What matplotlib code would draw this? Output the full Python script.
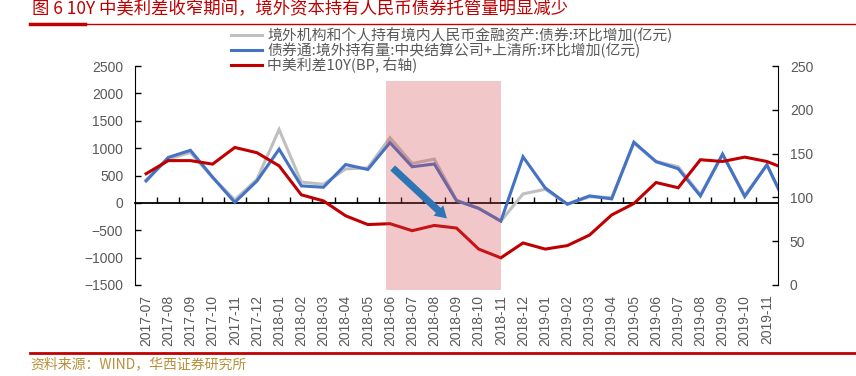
import matplotlib
matplotlib.use("Agg")
import matplotlib.pyplot as plt
from matplotlib.lines import Line2D
from matplotlib.patches import Rectangle, FancyArrowPatch

plt.rcParams['font.family'] = ['Liberation Sans', 'Noto Sans CJK SC', 'DejaVu Sans']

# ---------------- data ----------------
months = ["2017-07", "2017-08", "2017-09", "2017-10", "2017-11", "2017-12",
          "2018-01", "2018-02", "2018-03", "2018-04", "2018-05", "2018-06",
          "2018-07", "2018-08", "2018-09", "2018-10", "2018-11", "2018-12",
          "2019-01", "2019-02", "2019-03", "2019-04", "2019-05", "2019-06",
          "2019-07", "2019-08", "2019-09", "2019-10", "2019-11", "2019-12"]
shown_labels = months[:29]

gray_vals = [420, 800, 920, 460, 55, 430, 1340, 380, 340, 620, 640, 1190,
             720, 800, 50, -100, -333, 164, 248, -24, 110, 100, 1090, 760,
             660, 150, 880, 140, 690, -150]
blue_vals = [400, 830, 960, 470, 10, 400, 980, 310, 285, 700, 610, 1100,
             660, 710, 40, -100, -333, 842, 273, -24, 127, 73, 1109, 751,
             624, 127, 891, 115, 697, -150]
red_vals = [127, 142, 142, 138, 157, 151, 136, 103, 96, 79, 69, 70,
            62, 68, 65, 41, 31, 48, 41, 45, 57, 80, 93, 117,
            111, 143, 141, 146, 141, 131]

gray_name = "境外机构和个人持有境内人民币金融资产:债券:环比增加(亿元)"
blue_name = "债券通:境外持有量:中央结算公司+上清所:环比增加(亿元)"
red_name = "中美利差10Y(BP, 右轴)"

title = "图 6 10Y 中美利差收窄期间，境外资本持有人民币债券托管量明显减少"
source = "资料来源：WIND，华西证券研究所"

left_ticks = [-1500, -1000, -500, 0, 500, 1000, 1500, 2000, 2500]
right_ticks = [0, 50, 100, 150, 200, 250]

shade_start, shade_end = 10.8, 16.0
arrow_from = (11.03, 672)
arrow_to = (13.66, -319)

# ---------------- styling ----------------
GRAY = "#BFBFBF"
BLUE = "#4472C4"
RED = "#C00000"
TXT = "#595959"
CJK = ['Noto Sans CJK SC', 'DejaVu Sans']

W, H = 856, 376
fig = plt.figure(figsize=(W / 100, H / 100), dpi=100)
ax = fig.add_axes([135 / W, 1 - 285 / H, (778 - 135) / W, (285 - 66) / H])
ax2 = ax.twinx()

x = list(range(len(months)))
lg, = ax.plot(x, gray_vals, color=GRAY, lw=2.2, zorder=2, solid_joinstyle='miter')
lb, = ax.plot(x, blue_vals, color=BLUE, lw=2.2, zorder=3, solid_joinstyle='miter')
lr, = ax2.plot(x, red_vals, color=RED, lw=2.2, zorder=3, solid_joinstyle='miter')

ax.set_xlim(-0.5, 28.5)
ax.set_ylim(-1500, 2500)
ax2.set_ylim(0, 250)
ax.set_yticks(left_ticks)
ax2.set_yticks(right_ticks)
ax.set_xticks(range(len(shown_labels)))
ax.set_xticklabels(shown_labels, rotation=90, fontsize=10, color=TXT)
ax.tick_params(axis='x', length=0, pad=7)
ax.tick_params(axis='y', direction='in', length=4, width=1, labelsize=10,
               labelcolor=TXT, pad=8.5)
ax2.tick_params(axis='y', direction='in', length=4, width=1, labelsize=10,
                labelcolor=TXT, pad=8.5)

for a in (ax, ax2):
    a.spines['top'].set_visible(False)
    a.spines['bottom'].set_visible(False)
    a.spines['left'].set_color('black')
    a.spines['right'].set_color('black')
    a.patch.set_visible(False)
ax.spines['right'].set_visible(False)
ax2.spines['left'].set_visible(False)

# zero-line category axis with tick marks between categories
zero_frac = (0 - (-1500)) / (2500 - (-1500))
sec = ax.secondary_xaxis(zero_frac)
sec.set_xticks([i + 0.5 for i in range(28)])
sec.tick_params(direction='in', length=4, width=1, labelbottom=False, color='black')
sec.spines['bottom'].set_color('black')
sec.spines['bottom'].set_linewidth(1.3)

# shaded period (semi-transparent, on top of lines)
rect = Rectangle((shade_start, -1590), shade_end - shade_start, 2225 + 1590,
                 transform=ax.transData, facecolor=(0.83, 0.28, 0.31), alpha=0.3,
                 edgecolor='none', zorder=5, clip_on=False)
ax2.add_patch(rect)

# arrow
arr = FancyArrowPatch(arrow_from, arrow_to, transform=ax.transData,
                      arrowstyle='simple,head_length=0.7,head_width=0.85,tail_width=0.42',
                      mutation_scale=12, color='#2E75B6', zorder=6, lw=0)
ax2.add_patch(arr)

# legend
leg = ax.legend([lg, lb, lr], [gray_name, blue_name, red_name],
                loc='upper left', bbox_to_anchor=(231 / W, 1 - 27 / H),
                bbox_transform=fig.transFigure, frameon=False,
                prop={'family': CJK, 'size': 10.7},
                handlelength=2.1, handletextpad=0.35, labelspacing=-0.02,
                borderpad=0, borderaxespad=0)
for t in leg.get_texts():
    t.set_color(TXT)

# title & decoration lines
fig.text(32 / W, 1 - 9 / H, title, color=RED, fontsize=12.5, family=CJK,
         va='center', ha='left')
fig.add_artist(Line2D([30 / W, 1.0], [1 - 24 / H, 1 - 24 / H], color=RED, lw=1.0,
                      transform=fig.transFigure))
fig.add_artist(Line2D([30 / W, 85 / W], [1 - 24 / H, 1 - 24 / H], color=RED, lw=2.5,
                      transform=fig.transFigure))
fig.add_artist(Line2D([30 / W, 1.0], [1 - 352.5 / H, 1 - 352.5 / H], color=RED, lw=2.0,
                      transform=fig.transFigure))
fig.text(30 / W, 1 - 364 / H, source, color='#B8903A', fontsize=10, family=CJK,
         va='center', ha='left')

fig.savefig("out.png", dpi=100)
